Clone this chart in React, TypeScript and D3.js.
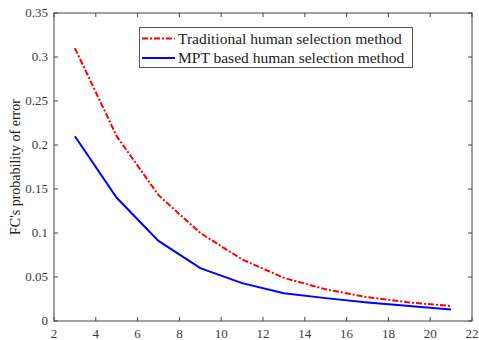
import React, { useEffect, useRef } from "react";
import * as d3 from "d3";

const xValues = [3, 5, 7, 9, 11, 13, 15, 17, 19, 21];
const traditional = [0.31, 0.21, 0.143, 0.1, 0.07, 0.049, 0.036, 0.027, 0.021, 0.017];
const mptBased = [0.21, 0.14, 0.091, 0.06, 0.043, 0.0315, 0.026, 0.021, 0.017, 0.013];
const xTicks = [2, 4, 6, 8, 10, 12, 14, 16, 18, 20, 22];
const yTicks = [0, 0.05, 0.1, 0.15, 0.2, 0.25, 0.3, 0.35];
const seriesNames = ["Traditional human selection method", "MPT based human selection method"];

const W = 479, H = 340;
const m = { left: 54, top: 13, right: 472, bottom: 321 };
const font = "'Liberation Serif', 'Times New Roman', serif";

export default function App() {
  const ref = useRef<SVGSVGElement>(null);

  useEffect(() => {
    const svg = d3.select(ref.current);
    svg.selectAll("*").remove();

    const x = d3.scaleLinear().domain([2, 22]).range([m.left, m.right]);
    const y = d3.scaleLinear().domain([0, 0.35]).range([m.bottom, m.top]);
    const axisColor = "#444";

    const g = svg.append("g");

    // box
    g.append("rect")
      .attr("x", m.left).attr("y", m.top)
      .attr("width", m.right - m.left).attr("height", m.bottom - m.top)
      .attr("fill", "none").attr("stroke", axisColor).attr("stroke-width", 1);

    // x ticks
    xTicks.forEach((t) => {
      const px = x(t);
      g.append("line").attr("x1", px).attr("x2", px).attr("y1", m.bottom).attr("y2", m.bottom - 4).attr("stroke", axisColor);
      g.append("line").attr("x1", px).attr("x2", px).attr("y1", m.top).attr("y2", m.top + 4).attr("stroke", axisColor);
      g.append("text").attr("x", px).attr("y", 338).attr("text-anchor", "middle")
        .attr("font-family", font).attr("font-size", 13).attr("fill", "#3a3a3a").text(t);
    });

    // y ticks
    yTicks.forEach((t) => {
      const py = y(t);
      g.append("line").attr("x1", m.left).attr("x2", m.left + 4).attr("y1", py).attr("y2", py).attr("stroke", axisColor);
      g.append("line").attr("x1", m.right).attr("x2", m.right - 4).attr("y1", py).attr("y2", py).attr("stroke", axisColor);
      g.append("text").attr("x", 48).attr("y", py).attr("dy", "0.33em").attr("text-anchor", "end")
        .attr("font-family", font).attr("font-size", 13).attr("fill", "#3a3a3a").text(String(t));
    });

    g.append("text")
      .attr("transform", `translate(15, ${(m.top + m.bottom) / 2}) rotate(-90)`)
      .attr("text-anchor", "middle").attr("dy", "0.35em")
      .attr("font-family", font).attr("font-size", 14).attr("fill", "#222")
      .text("FC's probability of error");

    const line = d3.line<number>().x((_, i) => x(xValues[i])).y((d) => y(d));

    g.append("path").datum(traditional).attr("d", line)
      .attr("fill", "none").attr("stroke", "#ff0000").attr("stroke-width", 2)
      .attr("stroke-dasharray", "6,2,2,2");
    g.append("path").datum(mptBased).attr("d", line)
      .attr("fill", "none").attr("stroke", "#0000ff").attr("stroke-width", 2);

    // legend
    const lg = g.append("g");
    lg.append("rect").attr("x", 139.5).attr("y", 27.5).attr("width", 273).attr("height", 40)
      .attr("fill", "#fff").attr("stroke", "#555").attr("stroke-width", 1);
    const styles = [
      { color: "#ff0000", dash: "6,2,2,2" },
      { color: "#0000ff", dash: null },
    ];
    seriesNames.forEach((name, i) => {
      const ly = 38.5 + i * 19.5;
      const l = lg.append("line").attr("x1", 142).attr("x2", 175).attr("y1", ly).attr("y2", ly)
        .attr("stroke", styles[i].color).attr("stroke-width", 2);
      if (styles[i].dash) l.attr("stroke-dasharray", styles[i].dash);
      lg.append("text").attr("x", 178).attr("y", ly).attr("dy", "0.33em")
        .attr("font-family", font).attr("font-size", 15.5).attr("fill", "#222").text(name);
    });
  }, []);

  return <svg ref={ref} width={W} height={H} style={{ position: "absolute", left: 0, top: 0, background: "#fff" }} />;
}
